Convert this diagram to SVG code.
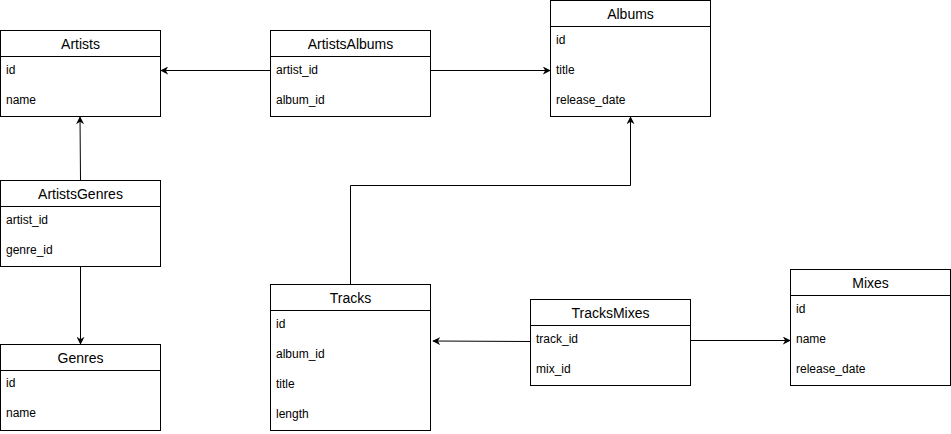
<svg xmlns="http://www.w3.org/2000/svg" width="951" height="434" viewBox="0 0 951 434">
<style>
.box{fill:#fff;stroke:#000;stroke-width:1}
.sep{stroke:#000;stroke-width:1}
.h{font-family:"Liberation Sans",Arial,sans-serif;font-size:14px;fill:#000;text-anchor:middle;dominant-baseline:central}
.f{font-family:"Liberation Sans",Arial,sans-serif;font-size:12px;fill:#000;dominant-baseline:central}
.c{fill:none;stroke:#000;stroke-width:1}
</style>
<defs>
<marker id="arr" viewBox="0 0 10 10" refX="9" refY="5" markerWidth="8" markerHeight="8" markerUnits="userSpaceOnUse" orient="auto">
<path d="M0,0 L10,5 L0,10 L3,5 Z" fill="#000"/>
</marker>
</defs>
<g id="connectors">
<path class="c" d="M270.5,70.5 H161" marker-end="url(#arr)"/>
<path class="c" d="M430.5,70.5 H550" marker-end="url(#arr)"/>
<path class="c" d="M350.5,284.5 V185.5 H630.5 V117" marker-end="url(#arr)"/>
<path class="c" d="M80.5,180.5 L80,117" marker-end="url(#arr)"/>
<path class="c" d="M80.5,266.5 V344" marker-end="url(#arr)"/>
<path class="c" d="M530.5,341.5 L433,341" marker-end="url(#arr)"/>
<path class="c" d="M690.5,340.5 H790" marker-end="url(#arr)"/>
</g>
<g id="Artists">
<rect class="box" x="0.5" y="30.5" width="160" height="86"/>
<line class="sep" x1="0.5" y1="56.5" x2="160.5" y2="56.5"/>
<text class="h" x="80.5" y="43.5">Artists</text>
<text class="f" x="6" y="70">id</text>
<text class="f" x="6" y="100">name</text>
</g>
<g id="ArtistsAlbums">
<rect class="box" x="270.5" y="30.5" width="160" height="86"/>
<line class="sep" x1="270.5" y1="56.5" x2="430.5" y2="56.5"/>
<text class="h" x="350.5" y="43.5">ArtistsAlbums</text>
<text class="f" x="276" y="70">artist_id</text>
<text class="f" x="276" y="100">album_id</text>
</g>
<g id="Albums">
<rect class="box" x="550.5" y="0.5" width="160" height="116"/>
<line class="sep" x1="550.5" y1="26.5" x2="710.5" y2="26.5"/>
<text class="h" x="630.5" y="13.5">Albums</text>
<text class="f" x="556" y="40">id</text>
<text class="f" x="556" y="70">title</text>
<text class="f" x="556" y="100">release_date</text>
</g>
<g id="ArtistsGenres">
<rect class="box" x="0.5" y="180.5" width="160" height="86"/>
<line class="sep" x1="0.5" y1="206.5" x2="160.5" y2="206.5"/>
<text class="h" x="80.5" y="193.5">ArtistsGenres</text>
<text class="f" x="6" y="220">artist_id</text>
<text class="f" x="6" y="250">genre_id</text>
</g>
<g id="Genres">
<rect class="box" x="0.5" y="344.5" width="160" height="86"/>
<line class="sep" x1="0.5" y1="370.5" x2="160.5" y2="370.5"/>
<text class="h" x="80.5" y="357.5">Genres</text>
<text class="f" x="6" y="383">id</text>
<text class="f" x="6" y="413">name</text>
</g>
<g id="Tracks">
<rect class="box" x="270.5" y="284.5" width="160" height="146"/>
<line class="sep" x1="270.5" y1="310.5" x2="430.5" y2="310.5"/>
<text class="h" x="350.5" y="297.5">Tracks</text>
<text class="f" x="276" y="324">id</text>
<text class="f" x="276" y="354">album_id</text>
<text class="f" x="276" y="384">title</text>
<text class="f" x="276" y="414">length</text>
</g>
<g id="TracksMixes">
<rect class="box" x="530.5" y="299.5" width="160" height="86"/>
<line class="sep" x1="530.5" y1="325.5" x2="690.5" y2="325.5"/>
<text class="h" x="610.5" y="312.5">TracksMixes</text>
<text class="f" x="536" y="339">track_id</text>
<text class="f" x="536" y="369">mix_id</text>
</g>
<g id="Mixes">
<rect class="box" x="790.5" y="269.5" width="160" height="116"/>
<line class="sep" x1="790.5" y1="295.5" x2="950.5" y2="295.5"/>
<text class="h" x="870.5" y="282.5">Mixes</text>
<text class="f" x="796" y="309">id</text>
<text class="f" x="796" y="339">name</text>
<text class="f" x="796" y="369">release_date</text>
</g>
</svg>
